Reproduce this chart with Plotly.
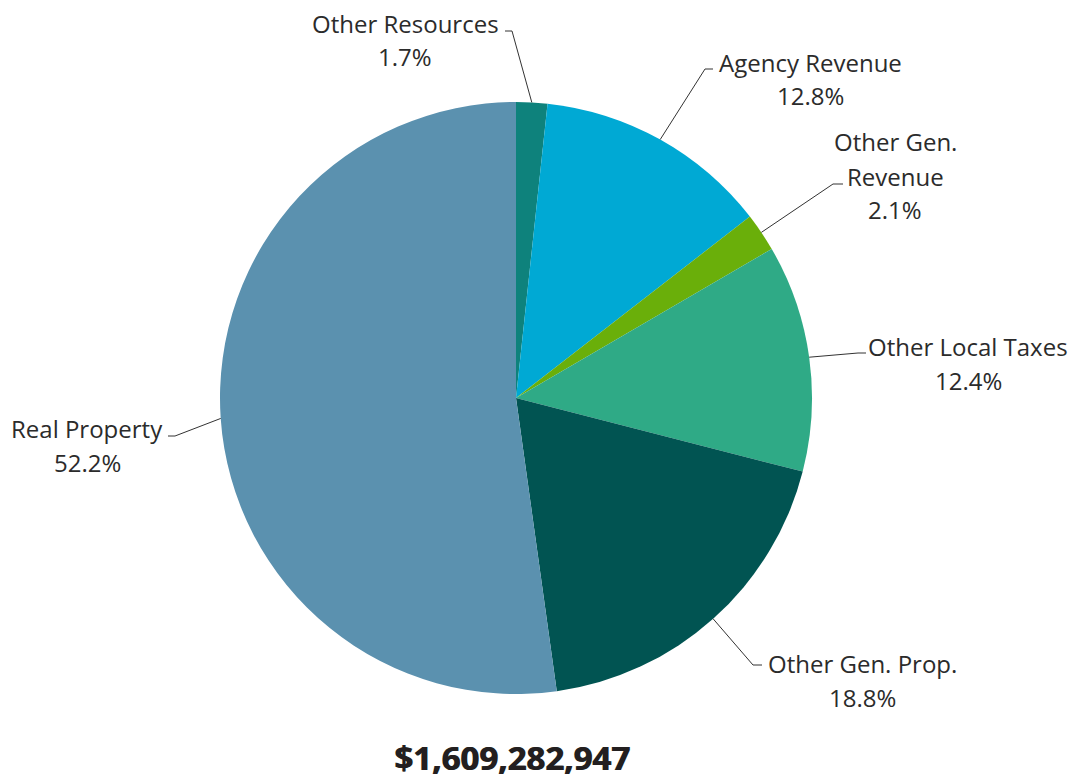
import math
import plotly.graph_objects as go

# ---- data ----
categories = ["Other Resources", "Agency Revenue", "Other Gen. Revenue",
              "Other Local Taxes", "Other Gen. Prop.", "Real Property"]
label_lines = [["Other Resources"], ["Agency Revenue"], ["Other Gen.", "Revenue"],
               ["Other Local Taxes"], ["Other Gen. Prop."], ["Real Property"]]
values = [1.7, 12.8, 2.1, 12.4, 18.8, 52.2]
total_label = "$1,609,282,947"

colors = ["#0E827C", "#00A9D4", "#6AAF0A", "#2FAA86", "#015452", "#5B91AF"]

# ---- layout geometry (pixels, in the reference image frame) ----
OFF = 8                      # page body margin
W, H = 1076 - OFF, 781 - OFF  # figure size
CX, CY, R = 516, 398, 296
# bend point of leader line, end of horizontal tick, label center x, first line y
label_layout = [
    dict(bend=(512, 31), tick=(505, 31), cx=405, y0=23),
    dict(bend=(705, 69), tick=(713, 69), cx=810, y0=62),
    dict(bend=(833, 184), tick=(843, 184), cx=895, y0=142),
    dict(bend=(858, 353), tick=(866, 353), cx=968, y0=346),
    dict(bend=(753, 665), tick=(762, 665), cx=862, y0=663),
    dict(bend=(175, 436), tick=(168, 436), cx=87, y0=428),
]
LINE_GAP = 34


def px(x):
    return (x - OFF) / W


def py(y):
    return 1 - (y - OFF) / H


fig = go.Figure(go.Pie(
    labels=categories,
    values=values,
    sort=False,
    direction="clockwise",
    rotation=0,
    marker=dict(colors=colors, line=dict(width=0)),
    textinfo="none",
    hoverinfo="label+percent",
    showlegend=False,
    domain=dict(x=[px(CX - R), px(CX + R)], y=[py(CY + R), py(CY - R)]),
))

shapes = []
annotations = []
total = sum(values)
cum = 0.0
for i, v in enumerate(values):
    mid = (cum + v / 2) / total * 2 * math.pi
    cum += v
    ex = CX + R * math.sin(mid)
    ey = CY - R * math.cos(mid)
    L = label_layout[i]
    bx, by = L["bend"]
    tx, ty = L["tick"]
    shapes.append(dict(
        type="path", xref="paper", yref="paper",
        path=f"M {px(ex)},{py(ey)} L {px(bx)},{py(by)} L {px(tx)},{py(ty)}",
        line=dict(color="#333333", width=1),
    ))
    lines = label_lines[i] + [f"{v:.1f}%"]
    for j, t in enumerate(lines):
        annotations.append(dict(
            x=px(L["cx"]), y=py(L["y0"] + j * LINE_GAP), xref="paper", yref="paper",
            text=t, showarrow=False, xanchor="center", yanchor="middle",
            font=dict(family="Open Sans", size=24, color="#2B2B2B"),
        ))

annotations.append(dict(
    x=px(512), y=0, xref="paper", yref="paper",
    text=f"<b>{total_label}</b>", showarrow=False, xanchor="center", yanchor="bottom",
    borderpad=0,
    font=dict(family="Open Sans", size=33, color="#231F20", weight=800,
              shadow="1px 0px 0px #231F20"),
))

fig.update_layout(
    width=W, height=H,
    margin=dict(l=0, r=0, t=0, b=0),
    paper_bgcolor="white", plot_bgcolor="white",
    shapes=shapes, annotations=annotations,
)

fig.write_html("out.html")
